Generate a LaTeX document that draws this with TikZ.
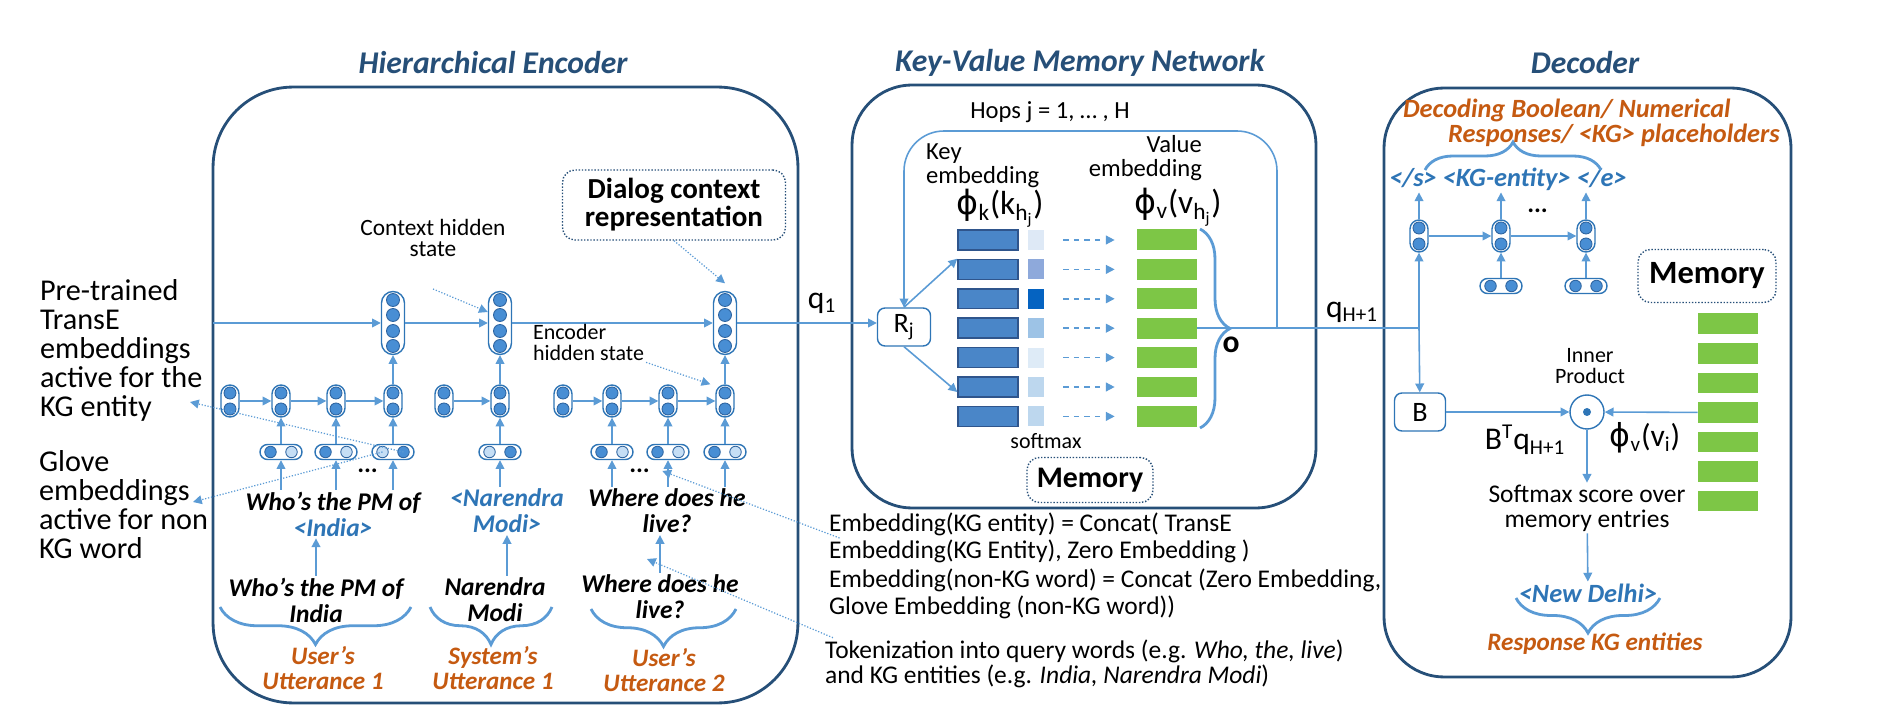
\documentclass[tikz,border=0pt]{standalone}
\usepackage{fontspec}
\setmainfont{Carlito}
\newfontfamily\phifont{DejaVu Sans}
\newcommand\phisym{{\phifont ϕ}}
\newcommand\lowsub[1]{\textsubscript{\fontsize{12}{12}\selectfont #1}}
\usetikzlibrary{arrows.meta,decorations.pathreplacing}
\definecolor{frame}{RGB}{38,79,120}
\definecolor{wire}{RGB}{91,155,213}
\definecolor{capline}{RGB}{46,117,182}
\definecolor{dotfill}{RGB}{72,142,212}
\definecolor{dotline}{RGB}{46,100,160}
\definecolor{lightfill}{RGB}{197,222,245}
\definecolor{ent}{RGB}{46,117,182}
\definecolor{orng}{RGB}{197,90,17}
\definecolor{kfill}{RGB}{74,134,200}
\definecolor{kedge}{RGB}{47,85,140}
\definecolor{vfill}{RGB}{125,198,70}
\definecolor{sm1}{RGB}{222,233,246}
\definecolor{sm2}{RGB}{142,169,219}
\definecolor{sm3}{RGB}{5,99,193}
\definecolor{sm4}{RGB}{157,195,230}
\definecolor{sm5}{RGB}{222,235,247}
\definecolor{sm6}{RGB}{189,215,238}
\definecolor{sm7}{RGB}{189,215,238}
\tikzset{
  >={Triangle[length=5pt,width=5pt]},
  panel/.style={draw=frame, line width=1.6pt, rounded corners=1.2cm, inner sep=0pt, outer sep=0pt},
  heading/.style={font=\fontsize{18}{20}\selectfont\bfseries\itshape, text=frame, inner sep=0pt},
  link/.style={draw=wire, line width=0.9pt},
  note/.style={draw=wire, densely dotted, line width=0.7pt},
  curly/.style={draw=wire, line width=1.6pt, decorate, decoration={brace, amplitude=#1}},
  wcell/.style={draw=capline, line width=0.8pt, rounded corners=0.18cm, minimum width=0.36cm,
    minimum height=0.64cm, inner sep=0pt, path picture={
      \filldraw[fill=dotfill, draw=dotline, line width=0.5pt] ([yshift=0.16cm]path picture bounding box.center) circle (0.12cm);
      \filldraw[fill=dotfill, draw=dotline, line width=0.5pt] ([yshift=-0.16cm]path picture bounding box.center) circle (0.12cm);}},
  ccell/.style={draw=capline, line width=0.8pt, rounded corners=0.23cm, minimum width=0.46cm,
    minimum height=1.26cm, inner sep=0pt, path picture={
      \foreach \yy in {-0.46,-0.16,0.16,0.46}
        \filldraw[fill=dotfill, draw=dotline, line width=0.5pt] ([yshift=\yy cm]path picture bounding box.center) circle (0.13cm);}},
  incell/.style 2 args={draw=capline, line width=0.8pt, rounded corners=0.15cm, minimum width=0.84cm,
    minimum height=0.3cm, inner sep=0pt, path picture={
      \filldraw[fill=#1, draw=dotline, line width=0.5pt] ([xshift=-0.21cm]path picture bounding box.center) circle (0.115cm);
      \filldraw[fill=#2, draw=dotline, line width=0.5pt] ([xshift=0.21cm]path picture bounding box.center) circle (0.115cm);}},
  kbar/.style={draw=kedge, fill=kfill, line width=0.8pt, minimum width=1.2cm, minimum height=0.4cm, inner sep=0pt},
  sbar/.style={minimum width=0.32cm, minimum height=0.4cm, inner sep=0pt},
  vbar/.style={fill=vfill, minimum width=1.2cm, minimum height=0.42cm, inner sep=0pt},
  rbox/.style={draw=capline, line width=0.8pt, rounded corners=0.15cm, minimum width=1.06cm,
    minimum height=0.76cm, inner sep=0pt, font=\fontsize{16}{16}\selectfont},
  memo/.style={draw=frame, densely dotted, line width=0.8pt, rounded corners=0.25cm, inner sep=0pt,
    font=\fontsize{17}{17}\selectfont\bfseries},
  side/.style={font=\fontsize{17.2}{16.5}\selectfont, align=left, anchor=west, inner sep=1pt},
  word/.style={font=\fontsize{14.5}{14.8}\selectfont\bfseries\itshape, align=center, inner sep=1pt},
  utt/.style={font=\fontsize{14.3}{14.2}\selectfont\bfseries\itshape, text=orng, align=center, inner sep=1pt},
  body/.style={font=\fontsize{14.5}{15.4}\selectfont, align=left, inner sep=1pt},
  small/.style={font=\fontsize{12.5}{12}\selectfont, align=center, inner sep=1pt},
  sym/.style={font=\fontsize{18}{18}\selectfont, inner sep=1pt},
  tokf/.style={font=\fontsize{15}{15}\selectfont\bfseries\itshape, text=ent, inner sep=1pt}
}
\begin{document}
\begin{tikzpicture}[x=0.02cm, y=-0.02cm]
\useasboundingbox (0,0) rectangle (1901,719);
% panels
\node[panel, rounded corners=1.6cm, minimum width=11.7cm, minimum height=12.32cm] (enc) at (505.5,395) {};
\node[panel, minimum width=9.28cm, minimum height=8.46cm] (kvm) at (1084,296.5) {};
\node[panel, minimum width=8.14cm, minimum height=11.78cm] (dec) at (1587.5,382.5) {};
\node[heading] (encT) at (493,63) {Hierarchical Encoder};
\node[heading] (kvmT) at (1080,63) {Key-Value Memory Network};
\node[heading] (decT) at (1585,63) {Decoder};

% encoder cells
\foreach \n/\x in {11/230,12/281,13/336,14/393,21/444,22/500,31/563,32/612,33/668,34/725}
  \node[wcell] (w\n) at (\x,401) {};
\node[ccell] (c1) at (393,323) {};
\node[ccell] (c2) at (500,323) {};
\node[ccell] (c3) at (725,323) {};
\foreach \n/\x/\a/\b in {12/281/dotfill/lightfill,13/336/dotfill/lightfill,14/393/lightfill/dotfill,
    22/500/lightfill/dotfill,32/612/dotfill/lightfill,33/668/dotfill/lightfill,34/725/dotfill/lightfill}
  \node[incell={\a}{\b}] (i\n) at (\x,452) {};
\foreach \a/\b in {11/12,12/13,13/14,21/22,31/32,32/33,33/34}
  \draw[link,->] (w\a) -- (w\b);
\foreach \n in {12,13,14,22,32,33,34}
  \draw[link,->] (i\n) -- (w\n);
\draw[link,->] (w14) -- (c1);
\draw[link,->] (w22) -- (c2);
\draw[link,->] (w34) -- (c3);
\draw[link,->] (enc.west |- c1) -- (c1);
\draw[link,->] (c1) -- (c2);
\draw[link,->] (c2) -- (c3);

% utterances
\node[word] (t1) at (333,514) {Who’s the PM of\\\textcolor{ent}{<India>}};
\node[word] (t2) at (507,511) {\textcolor{ent}{<Narendra}\\\textcolor{ent}{Modi>}};
\node[word] (t3) at (667,511) {Where does he\\live?};
\node[word] (r1) at (316,600) {Who’s the PM of\\India};
\node[word] (r2) at (495,600) {Narendra\\Modi};
\node[word] (r3) at (660,597) {Where does he\\live?};
\node[word] (dots1) at (368,471) {...};
\node[word] (dots3) at (640,471) {...};
\foreach \n in {12,13,14}
  \draw[link,->] (i\n |- t1.north) -- (i\n);
\draw[link,->] (i22 |- t2.north) -- (i22);
\foreach \n in {32,33,34}
  \draw[link,->] (i\n |- t3.north) -- (i\n);
\draw[link,->] (r1.north) -- (r1.north |- t1.south);
\draw[link,->] (t2.south |- r2.north) -- (t2.south);
\draw[link,->] (r3.north) -- (r3.north |- t3.south);
\draw[curly=0.75cm] (411,607) -- (220,607);
\draw[curly=0.75cm] (552,607) -- (430,607);
\draw[curly=0.75cm] (736,609) -- (591,609);
\node[utt] (u1) at (323,668) {User’s\\Utterance 1};
\node[utt] (u2) at (493,668) {System’s\\Utterance 1};
\node[utt] (u3) at (664,670) {User’s\\Utterance 2};

% encoder notes
\node[small, font=\fontsize{13.3}{12.2}\selectfont] (ctxl) at (433,238) {Context hidden\\state};
\node[small, align=left, anchor=west] (encl) at (531,342) {Encoder\\hidden state};
\node[memo, font=\fontsize{16.5}{16}\selectfont\bfseries, align=center, minimum width=4.46cm,
  minimum height=1.4cm] (dlg) at (674,205) {Dialog context\\representation};
\draw[note,->] ([yshift=-0.6cm]ctxl.south) -- ([yshift=0.22cm]c2.west);
\draw[note,->] (encl.south east) -- ([xshift=-0.1cm]w34.north west);
\draw[note,->] (dlg.south) -- ([yshift=0.15cm]c3.north);

% side texts
\node[side] (lt1) at (38,350) {Pre-trained\\TransE\\embeddings\\active for the\\KG entity};
\node[side] (lt2) at (37,505) {Glove\\embeddings\\active for non\\KG word};
\coordinate (p1) at (190,402);
\coordinate (p2) at (193,502);
\draw[note,->] ([xshift=0.21cm]i14.center) -- (p1);
\draw[note,->] ([xshift=-0.21cm]i14.center) -- (p2);

% bottom texts
\node[body, anchor=west] (emb1) at (827,538) {Embedding(KG entity) = Concat( TransE\\Embedding(KG Entity), Zero Embedding )};
\node[body, anchor=west] (emb2) at (827,594) {Embedding(non-KG word) = Concat (Zero Embedding,\\Glove Embedding (non-KG word))};
\node[body, font=\fontsize{14.5}{14.4}\selectfont, anchor=west] (tok) at (823,664) {Tokenization into query words (e.g. \textit{Who, the, live})\\and KG entities (e.g. \textit{India, Narendra Modi})};
\coordinate (p3) at (647,559);
\draw[note,->] ([xshift=0.25cm]emb1.west) -- ([xshift=0.2cm]dots3.east);
\draw[note,->] ([xshift=0.2cm]tok.north west) -- (p3);

% memory network
\node[body, font=\fontsize{14}{14}\selectfont] (hops) at (1050,112) {Hops j = 1, … , H};
\node[rbox] (Rj) at (904,327) {R\textsubscript{j}};
\node[sym] (q1) at (822,303) {q\lowsub{1}};
\draw[link,->] (c3) -- (c3 -| Rj.west);
\node[body, anchor=west, font=\fontsize{14}{13.7}\selectfont] (keyl) at (924,166) {Key\\embedding};
\node[body, anchor=east, align=right, font=\fontsize{14}{13.7}\selectfont] (vall) at (1204,158) {Value\\embedding};
\node[sym, font=\fontsize{19}{19}\selectfont] (phik) at (1000,208) {\phisym\textsubscript{k}(k\textsubscript{h\textsubscript{j}})};
\node[sym, font=\fontsize{19}{19}\selectfont] (phiv) at (1178,207) {\phisym\textsubscript{v}(v\textsubscript{h\textsubscript{j}})};
\foreach \i/\c in {1/sm1,2/sm2,3/sm3,4/sm4,5/sm5,6/sm6,7/sm7} {
  \node[kbar] (k\i) at (988,210.6+29.4*\i) {};
  \node[sbar, fill=\c] (s\i) at (1036,210.6+29.4*\i) {};
  \node[vbar] (v\i) at (1167,210.6+29.4*\i) {};
  \draw[link, dashed, ->, shorten <=0.38cm, shorten >=0.44cm] (s\i) -- (v\i);
}
\node[small] (smx) at (1046,441) {softmax};
\node[memo, minimum width=2.52cm, minimum height=0.9cm] (mem1) at (1090,480) {Memory};
\draw[link,->] (Rj.north) -- (k2.north west);
\draw[link,->] (Rj.south) -- ([yshift=-0.1cm]k6.west);
\coordinate (hopj) at (1277,328);
\coordinate (hoptop) at (1090,131);
\draw[link,->,rounded corners=0.8cm] (hopj) |- (hoptop) -| (Rj.north);
\draw[curly=0.6cm] (1200,229) -- (1200,428);
\node[sym, font=\fontsize{18}{18}\selectfont\bfseries] (olab) at (1231,345) {o};

% decoder
\foreach \n/\x in {1/1419,2/1501,3/1586}
  \node[wcell] (d\n) at (\x,236) {};
\node[incell={dotfill}{dotfill}] (di2) at (1501,286) {};
\node[incell={dotfill}{dotfill}] (di3) at (1586,286) {};
\draw[link,->] (d1) -- (d2);
\draw[link,->] (d2) -- (d3);
\draw[link,->] (di2) -- (d2);
\draw[link,->] (di3) -- (d3);
\node[word] (ddots) at (1538,211) {...};
\node[tokf] (toks) at (1508,179) {</s> <KG-entity> </e>};
\foreach \n in {1,2,3}
  \draw[link,->] (d\n) -- (d\n |- toks.south);
\draw[curly=0.56cm] (1425,170) -- (1601,170);
\node[utt, font=\fontsize{15}{14.5}\selectfont\bfseries\itshape, align=left, anchor=west] (dlab) at (1401,123)
  {Decoding Boolean/ Numerical\\\hspace*{0.9cm}Responses/ <KG> placeholders};
\draw[link] (v4.east) -- (v4.east -| d1) coordinate (outj);
\node[sym] (qH) at (1352,312) {q\lowsub{H+1}};
\node[rbox, minimum width=1.02cm] (B) at (1420,412) {B};
\draw[link,->] (outj) -- (d1);
\draw[link,->] (outj) -- (B);
\node[memo, font=\fontsize{18.5}{18.5}\selectfont\bfseries, minimum width=2.76cm, minimum height=1.06cm] (mem2) at (1707,276) {Memory};
\foreach \i in {1,...,7}
  \node[vbar] (m\i) at (1728,294.5+29.5*\i) {};
\node[draw=capline, line width=0.8pt, circle, minimum size=0.68cm, inner sep=0pt] (ip) at (1587,412) {};
\fill[capline] (ip.center) circle (0.08cm);
\node[small] (ipl) at (1590,366) {Inner\\Product};
\draw[link,->] (B) -- (ip);
\draw[link,->] (m4) -- (ip);
\node[sym] (btq) at (1525,440) {B\textsuperscript{\fontsize{12}{12}\selectfont T}q\lowsub{H+1}};
\node[sym] (phvi) at (1645,438) {\phisym\lowsub{v}(v\lowsub{i})};
\node[body, align=center, font=\fontsize{14.5}{14.2}\selectfont] (sfx) at (1587,508) {Softmax score over\\memory entries};
\draw[link,->] (ip) -- (sfx);
\node[tokf] (nd) at (1588,593) {<New Delhi>};
\draw[link,->] (sfx) -- (nd);
\draw[curly=0.7cm] (1660,598) -- (1516,598);
\node[utt] (resp) at (1595,644) {Response KG entities};
\end{tikzpicture}
\end{document}
